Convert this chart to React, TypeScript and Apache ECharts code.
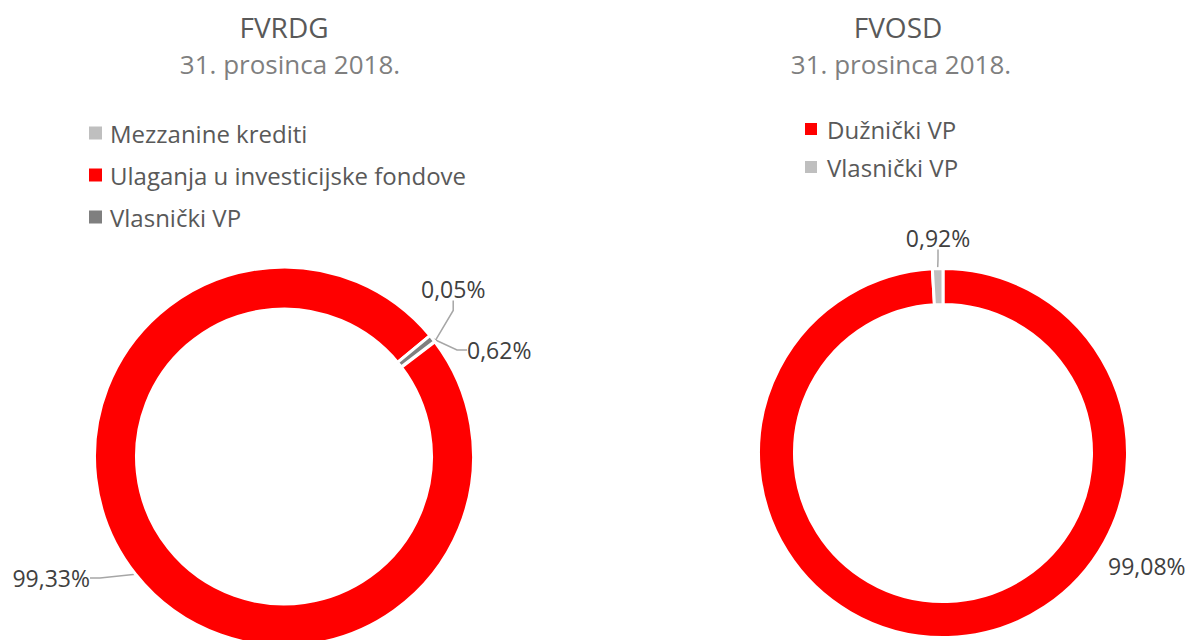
import React, { useEffect, useRef } from "react";
import * as echarts from "echarts";

// ---- data ----
const fvrdgCategories = ["Mezzanine krediti", "Ulaganja u investicijske fondove", "Vlasnički VP"];
const fvrdgValues = [0.05, 99.33, 0.62];
const fvosdCategories = ["Dužnički VP", "Vlasnički VP"];
const fvosdValues = [99.08, 0.92];
const chartTitles = ["FVRDG", "FVOSD"];
const chartSubtitle = "31. prosinca 2018.";

// ---- styles ----
const RED = "#FF0000";
const LIGHT = "#BFBFBF";
const DARK = "#7F7F7F";
const FONT = "'Open Sans', 'Noto Sans', sans-serif";
const fvrdgColors = [LIGHT, RED, DARK];
const fvosdColors = [RED, LIGHT];

const fmt = (v: number) => v.toFixed(2).replace(".", ",") + "%";

// label anchor positions (x, y, align), by data index
const fvrdgLabelPos: [number, number, string][] = [
  [421, 289, "left"],
  [90, 578, "right"],
  [467, 350, "left"],
];
const fvosdLabelPos: [number, number, string][] = [
  [1108, 566, "left"],
  [938, 238, "center"],
];

export default function App() {
  const ref = useRef<HTMLDivElement>(null);
  useEffect(() => {
    if (!ref.current) return;
    const chart = echarts.init(ref.current, undefined, { renderer: "svg" });

    const labelStyle = {
      show: true,
      fontFamily: FONT,
      fontSize: 23,
      color: "#404040",
      formatter: (p: any) => fmt(p.value),
    };
    const labelLine = {
      show: true,
      lineStyle: { color: "#A6A6A6", width: 1.5 },
      length: 10,
      length2: 10,
    };

    const option: any = {
      animation: false,
      backgroundColor: "#FFFFFF",
      graphic: [
        { type: "text", x: 284, y: 27, style: { text: chartTitles[0], fontFamily: FONT, fontSize: 28, fill: "#595959", align: "center", verticalAlign: "middle" } },
        { type: "text", x: 290, y: 64, style: { text: chartSubtitle, fontFamily: FONT, fontSize: 26, fill: "#7F7F7F", align: "center", verticalAlign: "middle" } },
        { type: "text", x: 898, y: 27, style: { text: chartTitles[1], fontFamily: FONT, fontSize: 28, fill: "#595959", align: "center", verticalAlign: "middle" } },
        { type: "text", x: 901, y: 64, style: { text: chartSubtitle, fontFamily: FONT, fontSize: 26, fill: "#7F7F7F", align: "center", verticalAlign: "middle" } },
      ],
      legend: [
        {
          orient: "vertical",
          left: 84,
          top: 116,
          itemWidth: 13,
          itemHeight: 13,
          itemGap: 18,
          icon: "rect",
          selectedMode: false,
          textStyle: { fontFamily: FONT, fontSize: 24, color: "#595959", lineHeight: 24, padding: [0, 0, 0, 3] },
          data: fvrdgCategories.map((n, i) => ({ name: n, itemStyle: { color: fvrdgColors[i], borderWidth: 0 } })),
        },
        {
          orient: "vertical",
          left: 800,
          top: 112,
          itemWidth: 12,
          itemHeight: 12,
          itemGap: 14,
          icon: "rect",
          selectedMode: false,
          textStyle: { fontFamily: FONT, fontSize: 24, color: "#595959", lineHeight: 24, padding: [0, 0, 0, 5] },
          data: fvosdCategories.map((n, i) => ({ name: n, itemStyle: { color: fvosdColors[i], borderWidth: 0 } })),
        },
      ],
      series: [
        {
          type: "pie",
          center: [284, 456.5],
          radius: [147.5, 189.5],
          startAngle: 37.4,
          clockwise: true,
          avoidLabelOverlap: false,
          itemStyle: { borderColor: "#FFFFFF", borderWidth: 3 },
          label: labelStyle,
          labelLine,
          labelLayout: (p: any) => {
            const pos = fvrdgLabelPos[p.dataIndex];
            return { x: pos[0], y: pos[1], align: pos[2], verticalAlign: "middle", hideOverlap: false, moveOverlap: null };
          },
          emphasis: { disabled: true },
          data: fvrdgCategories.map((n, i) => ({ name: n, value: fvrdgValues[i], itemStyle: { color: fvrdgColors[i] } })),
        },
        {
          type: "pie",
          center: [943, 453],
          radius: [148.5, 184.5],
          startAngle: 90,
          clockwise: true,
          avoidLabelOverlap: false,
          itemStyle: { borderColor: "#FFFFFF", borderWidth: 3 },
          label: labelStyle,
          labelLine,
          labelLayout: (p: any) => {
            const pos = fvosdLabelPos[p.dataIndex];
            return { x: pos[0], y: pos[1], align: pos[2], verticalAlign: "middle", hideOverlap: false, moveOverlap: null };
          },
          emphasis: { disabled: true },
          data: fvosdCategories.map((n, i) => ({
            name: n,
            value: fvosdValues[i],
            itemStyle: { color: fvosdColors[i] },
            labelLine: { show: i !== 0 },
          })),
        },
      ],
    };
    chart.setOption(option);
    return () => chart.dispose();
  }, []);

  return <div ref={ref} style={{ position: "absolute", left: 0, top: 0, width: 1189, height: 640 }} />;
}
